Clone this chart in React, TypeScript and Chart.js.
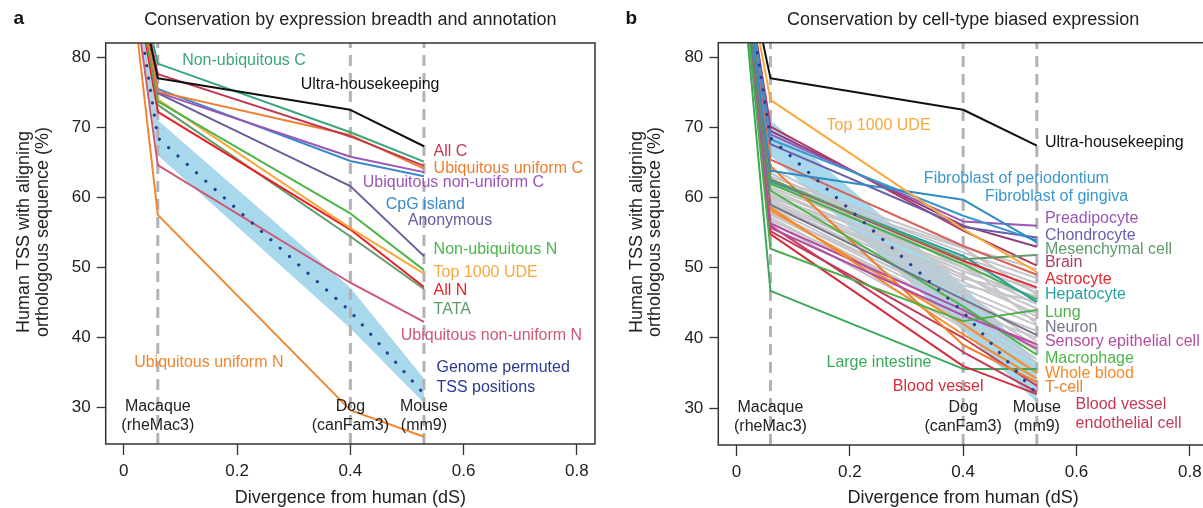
import { useEffect, useRef } from "react";
import { Chart, registerables } from "chart.js";

Chart.register(...registerables);

const FONT = '"Liberation Sans", Arial, Helvetica, sans-serif';

// Divergence (dS) of human, macaque, dog, mouse
const DIVERGENCE = [0, 0.06, 0.4, 0.53];
const SPECIES_X = [0.06, 0.4, 0.53];
const SPECIES_NAMES = ["Macaque", "Dog", "Mouse"];
const SPECIES_BUILDS = ["(rheMac3)", "(canFam3)", "(mm9)"];
const X_TICKS = [0, 0.2, 0.4, 0.6, 0.8];
const X_TICK_LABELS = ["0", "0.2", "0.4", "0.6", "0.8"];
const Y_TICKS = [30, 40, 50, 60, 70, 80];
const X_RANGE = [-0.032, 0.832];
const Y_RANGE = [24.76, 82.05];

// ---------- Panel a values (% aligning at human, macaque, dog, mouse) ----------
const A_NON_UBIQ_C = [100, 79.1, 69.3, 65.1];
const A_ULTRA = [100, 77.0, 72.5, 67.3];
const A_ALL_C = [100, 77.6, 68.7, 64.5];
const A_UBIQ_UNIF_C = [100, 75.1, 68.9, 64.1];
const A_UBIQ_NONUNIF_C = [100, 75.0, 65.8, 63.6];
const A_CPG = [100, 75.5, 65.2, 63.0];
const A_ANON = [100, 74.9, 61.6, 51.6];
const A_NON_UBIQ_N = [100, 73.7, 57.7, 49.6];
const A_TOP1000 = [100, 74.0, 55.6, 49.1];
const A_ALL_N = [100, 72.2, 55.4, 47.2];
const A_TATA = [100, 73.2, 54.4, 46.9];
const A_UBIQ_NONUNIF_N = [100, 64.6, 47.8, 42.2];
const A_UBIQ_UNIF_N = [100, 57.5, 29.6, 25.8];
const A_PERMUTED = [100, 68.5, 43.7, 31.9];
const A_PERMUTED_HI = [100, 71.0, 47.1, 34.1];
const A_PERMUTED_LO = [100, 66.0, 41.3, 30.6];

// ---------- Panel b values ----------
const B_ULTRA = [100, 77.0, 72.5, 67.4];
const B_TOP1000 = [100, 73.9, 55.5, 49.4];
const B_FIBRO_PERIO = [100, 63.8, 59.7, 53.6];
const B_FIBRO_GING = [100, 68.3, 57.4, 53.9];
const B_PREADIPO = [100, 69.0, 56.6, 56.0];
const B_CHONDRO = [100, 67.6, 55.8, 54.3];
const B_MESENCH = [100, 62.6, 51.2, 51.8];
const B_BRAIN = [100, 70.1, 55.3, 50.3];
const B_ASTRO = [100, 62.6, 51.0, 47.2];
const B_HEPATO = [100, 62.3, 51.7, 45.1];
const B_LUNG = [100, 52.7, 42.4, 44.0];
const B_NEURON = [100, 59.0, 45.5, 40.4];
const B_SENSORY = [100, 55.7, 43.2, 39.1];
const B_MACRO = [100, 61.0, 44.5, 37.6];
const B_WHOLE_BLOOD = [100, 58.6, 40.5, 34.2];
const B_TCELL = [100, 64.5, 39.0, 33.7];
const B_BVEC = [100, 56.0, 38.0, 32.3];
const B_BLOOD_VESSEL = [100, 54.8, 36.0, 32.0];
const B_LARGE_INT = [100, 46.7, 35.6, 35.6];
const B_OTHER_SALMON = [100, 65.4, 53.1, 49.0];
const B_OTHER_PLUM = [100, 69.5, 56.0, 53.0];
const B_OTHER_GREEN = [100, 62.0, 50.5, 45.5];
const B_OTHER_ORANGE = [100, 58.2, 42.0, 35.0];
const B_OTHER_MAGENTA = [100, 56.3, 44.0, 38.5];
const B_OTHER_CRIMSON = [100, 55.2, 40.0, 33.2];
const B_GREY_LINES = [
  [100, 63.0, 53.0, 49.8],
  [100, 62.5, 52.2, 48.5],
  [100, 62.0, 51.5, 47.8],
  [100, 61.5, 50.8, 46.5],
  [100, 61.2, 49.5, 45.8],
  [100, 60.8, 50.0, 44.8],
  [100, 60.5, 48.5, 46.0],
  [100, 60.2, 48.0, 43.5],
  [100, 59.8, 47.5, 45.2],
  [100, 59.5, 47.0, 42.5],
  [100, 59.2, 46.2, 41.8],
  [100, 58.8, 46.5, 39.5],
  [100, 58.5, 45.0, 41.0],
  [100, 58.0, 44.5, 38.2],
  [100, 57.6, 43.8, 37.0],
  [100, 57.2, 42.5, 36.5],
  [100, 56.8, 44.0, 40.0],
  [100, 56.5, 41.5, 35.5],
  [100, 61.8, 52.8, 46.2],
  [100, 60.0, 51.0, 42.0],
  [100, 59.0, 49.0, 43.0],
  [100, 57.8, 45.5, 38.8],
  [100, 64.2, 50.0, 47.0],
  [100, 63.5, 48.8, 44.2],
];
const B_PERMUTED = [100, 68.5, 43.7, 32.0];
const B_PERMUTED_HI = [100, 71.0, 47.5, 36.5];
const B_PERMUTED_LO = [100, 66.0, 41.0, 30.8];

// ---------- colours ----------
const COL = {
  nonUbiqC: "#3aa67a",
  ultra: "#111111",
  allC: "#c2374f",
  ubiqUnifC: "#ef7d2d",
  ubiqNonUnifC: "#9b55b9",
  cpg: "#3a89c9",
  anon: "#6a5b9d",
  nonUbiqN: "#4cb648",
  top1000: "#f9a83b",
  allN: "#ec1f27",
  tata: "#5f9b6b",
  ubiqNonUnifN: "#cc5a75",
  ubiqUnifN: "#f0862e",
  permuted: "#2b3a92",
  band: "#a8d8ec",
  dash: "#b2b2b6",
  grey: "#c6c6ca",
  fibro: "#2f8cc2",
  fibro2: "#3a97cc",
  preadipo: "#9b55b9",
  chondro: "#6a5ea8",
  mesench: "#5f9b6b",
  brain: "#b03a60",
  astro: "#e8262e",
  hepato: "#27a0a2",
  lung: "#4cb04a",
  neuron: "#74748a",
  sensory: "#b44ea2",
  macro: "#4cb648",
  wholeBlood: "#f58b2c",
  tcell: "#f07f2a",
  bvec: "#c23a55",
  bloodVessel: "#d42d3c",
  largeInt: "#3aaa5a",
  salmon: "#d8615a",
  plum: "#8c3b7e",
};

type Series = { data: number[]; color: string; width?: number };

// drawn bottom -> top
const A_SERIES: Series[] = [
  { data: A_UBIQ_UNIF_N, color: COL.ubiqUnifN },
  { data: A_UBIQ_NONUNIF_N, color: COL.ubiqNonUnifN },
  { data: A_TATA, color: COL.tata },
  { data: A_ALL_N, color: COL.allN },
  { data: A_TOP1000, color: COL.top1000 },
  { data: A_NON_UBIQ_N, color: COL.nonUbiqN },
  { data: A_ANON, color: COL.anon },
  { data: A_CPG, color: COL.cpg },
  { data: A_UBIQ_NONUNIF_C, color: COL.ubiqNonUnifC },
  { data: A_UBIQ_UNIF_C, color: COL.ubiqUnifC },
  { data: A_ALL_C, color: COL.allC },
  { data: A_NON_UBIQ_C, color: COL.nonUbiqC },
  { data: A_ULTRA, color: COL.ultra },
];

const B_SERIES: Series[] = [
  ...B_GREY_LINES.map((d) => ({ data: d, color: COL.grey })),
  { data: B_OTHER_GREEN, color: COL.lung },
  { data: B_OTHER_ORANGE, color: COL.wholeBlood },
  { data: B_OTHER_MAGENTA, color: COL.sensory },
  { data: B_OTHER_CRIMSON, color: COL.bvec },
  { data: B_OTHER_SALMON, color: COL.salmon },
  { data: B_OTHER_PLUM, color: COL.plum },
  { data: B_LARGE_INT, color: COL.largeInt },
  { data: B_BLOOD_VESSEL, color: COL.bloodVessel },
  { data: B_BVEC, color: COL.bvec },
  { data: B_TCELL, color: COL.tcell },
  { data: B_WHOLE_BLOOD, color: COL.wholeBlood },
  { data: B_MACRO, color: COL.macro },
  { data: B_SENSORY, color: COL.sensory },
  { data: B_NEURON, color: COL.neuron },
  { data: B_LUNG, color: COL.lung },
  { data: B_HEPATO, color: COL.hepato },
  { data: B_ASTRO, color: COL.astro },
  { data: B_BRAIN, color: COL.brain },
  { data: B_MESENCH, color: COL.mesench },
  { data: B_CHONDRO, color: COL.chondro },
  { data: B_PREADIPO, color: COL.preadipo },
  { data: B_FIBRO_GING, color: COL.fibro2 },
  { data: B_FIBRO_PERIO, color: COL.fibro },
  { data: B_TOP1000, color: COL.top1000 },
  { data: B_ULTRA, color: COL.ultra },
];

type Label = { text: string; x: number; y: number; color: string; align?: CanvasTextAlign };

const A_LABELS: Label[] = [
  { text: "Non-ubiquitous C", x: 0.103, y: 79.47, color: COL.nonUbiqC },
  { text: "Ultra-housekeeping", x: 0.3124, y: 76.04, color: "#111" },
  { text: "All C", x: 0.547, y: 66.51, color: COL.allC },
  { text: "Ubiquitous uniform C", x: 0.547, y: 64.14, color: COL.ubiqUnifC },
  { text: "Ubiquitous non-uniform C", x: 0.4219, y: 62.09, color: COL.ubiqNonUnifC },
  { text: "CpG island", x: 0.4625, y: 59.0, color: COL.cpg },
  { text: "Anonymous", x: 0.5013, y: 56.66, color: COL.anon },
  { text: "Non-ubiquitous N", x: 0.547, y: 52.57, color: COL.nonUbiqN },
  { text: "Top 1000 UDE", x: 0.547, y: 49.23, color: COL.top1000 },
  { text: "All N", x: 0.547, y: 46.61, color: COL.allN },
  { text: "TATA", x: 0.547, y: 43.9, color: COL.tata },
  { text: "Ubiquitous non-uniform N", x: 0.489, y: 40.19, color: COL.ubiqNonUnifN },
  { text: "Genome permuted", x: 0.552, y: 35.66, color: COL.permuted },
  { text: "TSS positions", x: 0.552, y: 32.86, color: COL.permuted },
  { text: "Ubiquitous uniform N", x: 0.0182, y: 36.43, color: COL.ubiqUnifN },
];

const B_LABELS: Label[] = [
  { text: "Ultra-housekeeping", x: 0.5443, y: 67.83, color: "#111" },
  { text: "Top 1000 UDE", x: 0.1589, y: 70.24, color: COL.top1000 },
  { text: "Fibroblast of periodontium", x: 0.3307, y: 62.67, color: COL.fibro2 },
  { text: "Fibroblast of gingiva", x: 0.4384, y: 60.2, color: COL.fibro2 },
  { text: "Preadipocyte", x: 0.5443, y: 56.99, color: COL.preadipo },
  { text: "Chondrocyte", x: 0.5443, y: 54.52, color: COL.chondro },
  { text: "Mesenchymal cell", x: 0.5443, y: 52.63, color: COL.mesench },
  { text: "Brain", x: 0.5443, y: 50.74, color: COL.brain },
  { text: "Astrocyte", x: 0.5443, y: 48.27, color: COL.astro },
  { text: "Hepatocyte", x: 0.5443, y: 46.24, color: COL.hepato },
  { text: "Lung", x: 0.5443, y: 43.64, color: COL.lung },
  { text: "Neuron", x: 0.5443, y: 41.51, color: COL.neuron },
  { text: "Sensory epithelial cell", x: 0.5443, y: 39.46, color: COL.sensory },
  { text: "Macrophage", x: 0.5443, y: 37.0, color: COL.macro },
  { text: "Whole blood", x: 0.5443, y: 34.97, color: COL.wholeBlood },
  { text: "T-cell", x: 0.5443, y: 32.88, color: COL.tcell },
  { text: "Blood vessel", x: 0.5984, y: 30.47, color: COL.bvec },
  { text: "endothelial cell", x: 0.5984, y: 27.77, color: COL.bvec },
  { text: "Blood vessel", x: 0.2759, y: 33.13, color: COL.bloodVessel },
  { text: "Large intestine", x: 0.1589, y: 36.53, color: COL.largeInt },
];

const SPECIES_LABEL_Y = [30.05, 27.4];

type Panel = {
  letter: string;
  title: string;
  series: Series[];
  labels: Label[];
  permuted: number[];
  permutedHi: number[];
  permutedLo: number[];
  padTop: number;
  padRight: number;
  yAxisWidth: number;
  xAxisHeight: number;
};

const PANEL_A: Panel = {
  letter: "a",
  title: "Conservation by expression breadth and annotation",
  series: A_SERIES,
  labels: A_LABELS,
  permuted: A_PERMUTED,
  permutedHi: A_PERMUTED_HI,
  permutedLo: A_PERMUTED_LO,
  padTop: 43,
  padRight: 15,
  yAxisWidth: 105.7,
  xAxisHeight: 64,
};

const PANEL_B: Panel = {
  letter: "b",
  title: "Conservation by cell-type biased expression",
  series: B_SERIES,
  labels: B_LABELS,
  permuted: B_PERMUTED,
  permutedHi: B_PERMUTED_HI,
  permutedLo: B_PERMUTED_LO,
  padTop: 42.7,
  padRight: 42,
  yAxisWidth: 108.3,
  xAxisHeight: 63,
};

const pts = (vals: number[]) => DIVERGENCE.map((x, i) => ({ x, y: vals[i] }));

function buildDatasets(p: Panel) {
  const drawOrder: any[] = [];
  // band (fill between hi and lo)
  drawOrder.push({
    data: pts(p.permutedLo),
    borderWidth: 0,
    pointRadius: 0,
    fill: false,
    clip: 0,
  });
  drawOrder.push({
    data: pts(p.permutedHi),
    borderWidth: 0,
    pointRadius: 0,
    fill: "+1",
    backgroundColor: COL.band,
    clip: 0,
  });
  // dashed species guides
  SPECIES_X.forEach((sx) => {
    drawOrder.push({
      data: [
        { x: sx, y: Y_RANGE[0] },
        { x: sx, y: Y_RANGE[1] },
      ],
      borderColor: COL.dash,
      borderWidth: 3,
      borderDash: [11, 7],
      pointRadius: 0,
      fill: false,
      clip: 0,
    });
  });
  p.series.forEach((s) => {
    drawOrder.push({
      data: pts(s.data),
      borderColor: s.color,
      borderWidth: s.width ?? 2,
      borderJoinStyle: "round",
      pointRadius: 0,
      fill: false,
      tension: 0,
      clip: 0,
    });
  });
  // dotted permuted median
  drawOrder.push({
    data: pts(p.permuted),
    borderColor: COL.permuted,
    borderWidth: 3.2,
    borderDash: [0.01, 12.5],
    borderCapStyle: "round",
    pointRadius: 0,
    fill: false,
    clip: 0,
  });
  // Chart.js paints index 0 on top, so reverse
  return drawOrder.reverse();
}

function textPlugin(p: Panel) {
  return {
    id: "panelText" + p.letter,
    afterDraw(chart: any) {
      const ctx = chart.ctx as CanvasRenderingContext2D;
      const { left, right, top, bottom } = chart.chartArea;
      const xs = chart.scales.x;
      const ys = chart.scales.y;
      ctx.save();
      // box
      ctx.strokeStyle = "#333";
      ctx.lineWidth = 1.5;
      ctx.strokeRect(left, top, right - left, bottom - top);

      // labels
      ctx.font = `16px ${FONT}`;
      ctx.textBaseline = "middle";
      p.labels.forEach((l) => {
        ctx.fillStyle = l.color;
        ctx.textAlign = l.align ?? "left";
        ctx.fillText(l.text, xs.getPixelForValue(l.x), ys.getPixelForValue(l.y));
      });
      // species labels
      ctx.fillStyle = "#222";
      ctx.textAlign = "center";
      SPECIES_X.forEach((sx, i) => {
        const px = xs.getPixelForValue(sx);
        ctx.fillText(SPECIES_NAMES[i], px, ys.getPixelForValue(SPECIES_LABEL_Y[0]));
        ctx.fillText(SPECIES_BUILDS[i], px, ys.getPixelForValue(SPECIES_LABEL_Y[1]));
      });

      // title
      const xCenter = xs.getPixelForValue((X_RANGE[0] + X_RANGE[1]) / 2);
      ctx.font = `18px ${FONT}`;
      ctx.fillStyle = "#222";
      ctx.textAlign = "center";
      ctx.fillText(p.title, xCenter, 20);

      // panel letter
      ctx.font = `bold 19px ${FONT}`;
      ctx.fillStyle = "#111";
      ctx.fillText(p.letter, left - 87, 19);

      // x title
      ctx.font = `18px ${FONT}`;
      ctx.fillStyle = "#222";
      ctx.fillText("Divergence from human (dS)", xCenter, 498);

      // y title (two lines, rotated)
      ctx.save();
      ctx.translate(left - 81.5, 232);
      ctx.rotate(-Math.PI / 2);
      ctx.fillText("Human TSS with aligning", 0, 0);
      ctx.restore();
      ctx.save();
      ctx.translate(left - 63, 232);
      ctx.rotate(-Math.PI / 2);
      ctx.fillText("orthologous sequence (%)", 0, 0);
      ctx.restore();

      ctx.restore();
    },
  };
}

function buildConfig(p: Panel): any {
  return {
    type: "line",
    data: { datasets: buildDatasets(p) },
    options: {
      animation: false,
      responsive: false,
      devicePixelRatio: 1,
      events: [],
      parsing: true,
      layout: { padding: { left: 0, top: p.padTop, right: p.padRight, bottom: 0 } },
      plugins: {
        legend: { display: false },
        tooltip: { enabled: false },
        title: { display: false },
      },
      scales: {
        x: {
          type: "linear",
          min: X_RANGE[0],
          max: X_RANGE[1],
          afterFit: (s: any) => {
            s.height = p.xAxisHeight;
          },
          afterBuildTicks: (s: any) => {
            s.ticks = X_TICKS.map((v) => ({ value: v }));
          },
          ticks: {
            callback: (v: number) => {
              const i = X_TICKS.findIndex((t) => Math.abs(t - v) < 1e-9);
              return i >= 0 ? X_TICK_LABELS[i] : "";
            },
            font: { family: FONT, size: 17 },
            color: "#222",
            padding: 6,
            maxRotation: 0,
            autoSkip: false,
          },
          grid: {
            display: true,
            drawOnChartArea: false,
            drawTicks: true,
            tickLength: 11,
            tickColor: "#333",
            tickWidth: 1.3,
          },
          border: { display: false },
        },
        y: {
          type: "linear",
          min: Y_RANGE[0],
          max: Y_RANGE[1],
          afterFit: (s: any) => {
            s.width = p.yAxisWidth;
          },
          afterBuildTicks: (s: any) => {
            s.ticks = Y_TICKS.map((v) => ({ value: v }));
          },
          ticks: {
            callback: (v: number) => String(v),
            font: { family: FONT, size: 17 },
            color: "#222",
            padding: 6,
            autoSkip: false,
          },
          grid: {
            display: true,
            drawOnChartArea: false,
            drawTicks: true,
            tickLength: 9,
            tickColor: "#333",
            tickWidth: 1.3,
          },
          border: { display: false },
        },
      },
    },
    plugins: [textPlugin(p)],
  };
}

export default function App() {
  const refA = useRef<HTMLCanvasElement>(null);
  const refB = useRef<HTMLCanvasElement>(null);

  useEffect(() => {
    const ca = new Chart(refA.current as HTMLCanvasElement, buildConfig(PANEL_A));
    const cb = new Chart(refB.current as HTMLCanvasElement, buildConfig(PANEL_B));
    return () => {
      ca.destroy();
      cb.destroy();
    };
  }, []);

  return (
    <div
      style={{
        position: "fixed",
        left: 0,
        top: 0,
        width: 1203,
        height: 508,
        overflow: "hidden",
        background: "#fff",
      }}
    >
      <canvas
        ref={refA}
        width={610}
        height={508}
        style={{ position: "absolute", left: 0, top: 0, width: 610, height: 508 }}
      />
      <canvas
        ref={refB}
        width={640}
        height={508}
        style={{ position: "absolute", left: 610, top: 0, width: 640, height: 508 }}
      />
    </div>
  );
}
